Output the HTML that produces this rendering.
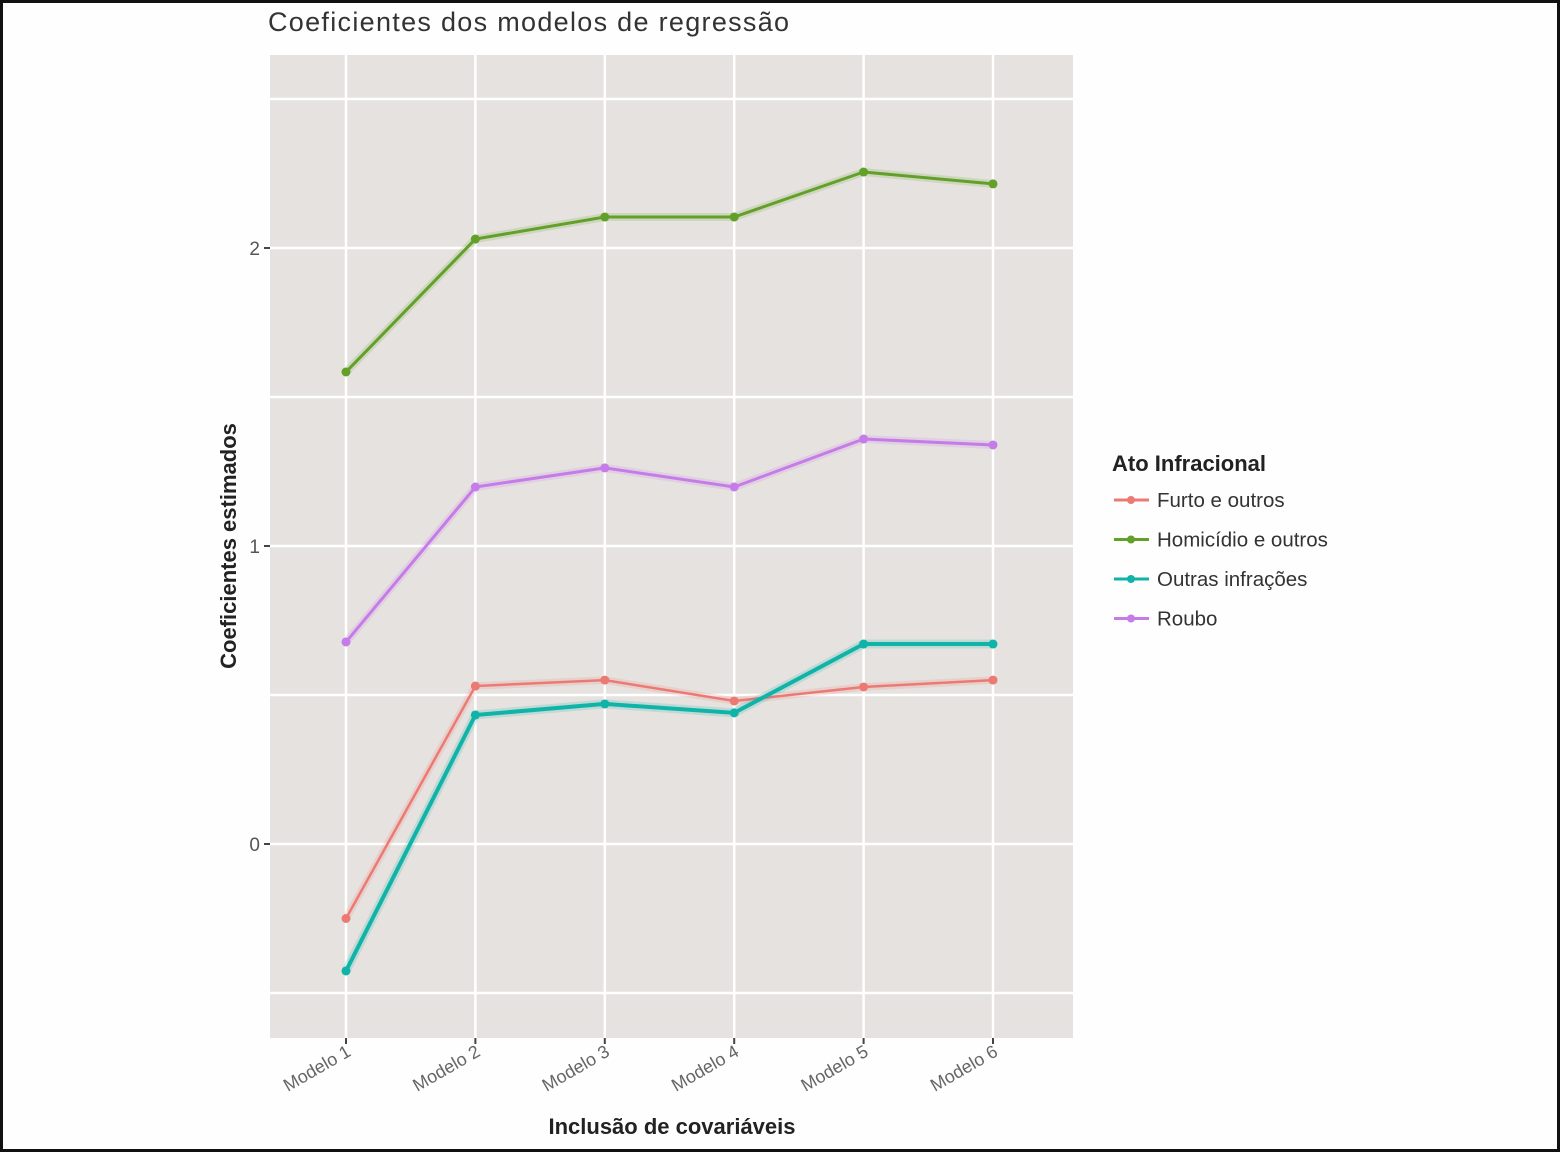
<!DOCTYPE html>
<html><head><meta charset="utf-8"><style>
html,body{margin:0;padding:0;background:#fff}
body{width:1561px;height:1153px;overflow:hidden}
svg text{font-family:"Liberation Sans",sans-serif}
</style></head><body>
<svg id="chart" width="1561" height="1153" viewBox="0 0 1561 1153">
<rect x="1.5" y="1.5" width="1557" height="1149" fill="#fefefe" stroke="#111" stroke-width="3"/>
<text x="268" y="31" font-size="27" letter-spacing="1.3" fill="#333">Coeficientes dos modelos de regressão</text>
<rect x="270" y="55" width="803" height="983" fill="#e6e2df"/>
<g id="grid"></g>
<g id="yaxis"></g>
<g id="xaxis"></g>
<g id="series"></g>
<text transform="translate(236,546) rotate(-90)" text-anchor="middle" font-size="22" font-weight="bold" fill="#222">Coeficientes estimados</text>
<text x="672" y="1134" text-anchor="middle" font-size="22" font-weight="bold" fill="#222">Inclusão de covariáveis</text>
<g id="legend">
<text x="1112" y="471" font-size="22" font-weight="bold" fill="#222">Ato Infracional</text>
</g>
</svg>
<script>
const categories = ["Modelo 1","Modelo 2","Modelo 3","Modelo 4","Modelo 5","Modelo 6"];
const seriesNames = ["Furto e outros","Homicídio e outros","Outras infrações","Roubo"];
const seriesColors = ["#ec7a74","#62a02a","#10b3a8","#c57ce8"];
const furto = [-0.25, 0.53, 0.55, 0.48, 0.527, 0.55];
const homicidio = [1.584, 2.03, 2.104, 2.104, 2.255, 2.215];
const outras = [-0.426, 0.433, 0.47, 0.44, 0.671, 0.671];
const roubo = [0.678, 1.198, 1.262, 1.198, 1.359, 1.339];
const yTicks = [0, 1, 2];
const yMinor = [-0.5, 0.5, 1.5, 2.5];

const NS="http://www.w3.org/2000/svg";
const X0=346, XSTEP=129.4, Y0=844, YUNIT=298;
const xs=i=>X0+i*XSTEP;
const ys=v=>Y0-v*YUNIT;
function mk(t,a,p){const e=document.createElementNS(NS,t);for(const k in a)e.setAttribute(k,a[k]);p.appendChild(e);return e;}
const grid=document.getElementById('grid'), ya=document.getElementById('yaxis'), xa=document.getElementById('xaxis'), sg=document.getElementById('series'), lg=document.getElementById('legend');
yMinor.forEach(v=>{const l=mk('line',{x1:270,x2:1073,y1:ys(v),y2:ys(v),stroke:'#fff','stroke-width':2.5},grid);

});
yTicks.forEach(v=>{const l=mk('line',{x1:270,x2:1073,y1:ys(v),y2:ys(v),stroke:'#fff','stroke-width':2.5},grid);


const tk=mk('line',{x1:264,x2:270,y1:ys(v),y2:ys(v),stroke:'#444','stroke-width':2},ya);


const t=mk('text',{x:260,y:ys(v)+7,'text-anchor':'end','font-size':19,fill:'#555'},ya);t.textContent=v;

});
categories.forEach((c,i)=>{const x=xs(i);
const l=mk('line',{x1:x,x2:x,y1:55,y2:1038,stroke:'#fff','stroke-width':2.5},grid);


const tk=mk('line',{x1:x,x2:x,y1:1038,y2:1044,stroke:'#444','stroke-width':2},xa);


const t=mk('text',{transform:`translate(${x+6},${1055}) rotate(-30)`,'text-anchor':'end','font-size':18,fill:'#666'},xa);t.textContent=c;

});
const allSeries=[furto,homicidio,outras,roubo];
const widths=[2.5,3,4,3];
allSeries.forEach((arr,s)=>{const g=mk('g',{},sg);


const pts=arr.map((v,i)=>xs(i)+','+ys(v)).join(' ');
mk('polyline',{points:pts,fill:'none',stroke:seriesColors[s],'stroke-width':widths[s]+5,'stroke-opacity':0.18},g);
const pl=mk('polyline',{points:pts,fill:'none',stroke:seriesColors[s],'stroke-width':widths[s]},g);


arr.forEach((v,i)=>{const c=mk('circle',{cx:xs(i),cy:ys(v),r:4.5,fill:seriesColors[s]},g);

});
const ly=500+s*39.5;
const k=mk('g',{},lg);


mk('line',{x1:1114,x2:1149,y1:ly,y2:ly,stroke:seriesColors[s],'stroke-width':3},k);
mk('circle',{cx:1131,cy:ly,r:4,fill:seriesColors[s]},k);
const t=mk('text',{x:1157,y:ly+7,'font-size':20.5,fill:'#333'},k);t.textContent=seriesNames[s];});
</script>
</body></html>
